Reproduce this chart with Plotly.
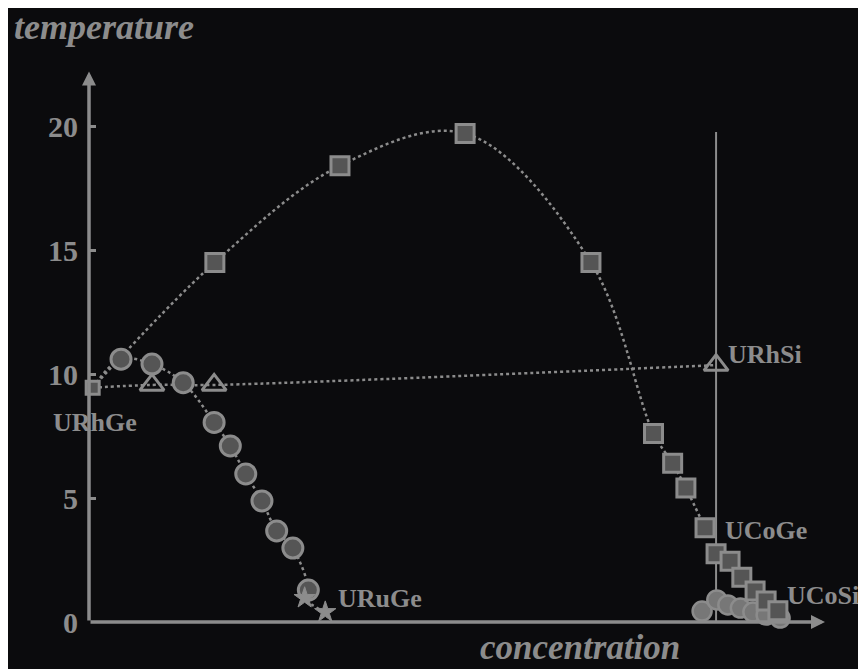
import plotly.graph_objects as go

# ---- data (concentration in arbitrary units 0..100, temperature in K) ----
dome_x = [0.5, 17.1, 34.1, 51.1, 68.2, 76.7, 79.3, 81.1, 83.7]
dome_y = [9.45, 14.5, 18.4, 19.7, 14.5, 7.6, 6.4, 5.4, 3.8]

cosi_sq_x = [83.7, 85.2, 87.1, 88.7, 90.5, 92.0, 93.6]
cosi_sq_y = [3.8, 2.75, 2.45, 1.8, 1.25, 0.85, 0.45]

ru_x = [0.5, 4.35, 8.56, 12.8, 17.0, 19.2, 21.3, 23.5, 25.5, 27.7, 29.8]
ru_y = [9.45, 10.6, 10.4, 9.65, 8.05, 7.1, 5.97, 4.88, 3.67, 2.98, 1.29]

star_x = [29.3, 32.1]
star_y = [0.97, 0.4]

tri_x = [0.5, 8.56, 17.0, 85.2]
tri_y = [9.45, 9.56, 9.56, 10.36]

cosi_c_x = [83.3, 85.3, 86.8, 88.5, 90.2, 92.0, 93.9]
cosi_c_y = [0.44, 0.89, 0.69, 0.56, 0.40, 0.28, 0.16]

vline_x = 85.2
vline_top = 19.76

y_ticks = [0, 5, 10, 15, 20]

labels = [
    ("URhGe", 0.8, 8.06, "center"),
    ("URhSi", 86.5, 10.8, "left"),
    ("UCoGe", 86.2, 3.67, "left"),
    ("UCoSi", 94.5, 1.05, "left"),
    ("URuGe", 33.5, 0.93, "left"),
]

GRAY = "#8c8c8c"
DARK = "#555555"
BG = "#0b0b0d"
SERIF = "Liberation Serif"

fig = go.Figure()

# vertical line
fig.add_trace(go.Scatter(x=[vline_x, vline_x], y=[0, vline_top], mode="lines",
                         line=dict(color=GRAY, width=2), hoverinfo="skip", showlegend=False))

# dotted lines
fig.add_trace(go.Scatter(x=tri_x, y=tri_y, mode="lines",
                         line=dict(color=GRAY, width=2.5, dash="dot", shape="spline"),
                         showlegend=False))
fig.add_trace(go.Scatter(x=dome_x, y=dome_y, mode="lines",
                         line=dict(color=GRAY, width=2.5, dash="dot", shape="spline", smoothing=1.0),
                         showlegend=False))
fig.add_trace(go.Scatter(x=ru_x + star_x, y=ru_y + star_y, mode="lines",
                         line=dict(color=GRAY, width=2.5, dash="dot", shape="spline"),
                         showlegend=False))

# UCoSi circles
fig.add_trace(go.Scatter(x=cosi_c_x, y=cosi_c_y, mode="markers", cliponaxis=False,
                         marker=dict(symbol="circle", size=19, color="#777777",
                                     line=dict(color=GRAY, width=2.5)), showlegend=False))
# squares
fig.add_trace(go.Scatter(x=dome_x[1:] + cosi_sq_x[1:], y=dome_y[1:] + cosi_sq_y[1:], mode="markers",
                         cliponaxis=False,
                         marker=dict(symbol="square", size=18, color=DARK,
                                     line=dict(color=GRAY, width=3)), showlegend=False))
# circles (Ru)
fig.add_trace(go.Scatter(x=ru_x[1:], y=ru_y[1:], mode="markers", cliponaxis=False,
                         marker=dict(symbol="circle", size=20, color=DARK,
                                     line=dict(color=GRAY, width=3)), showlegend=False))
# stars
fig.add_trace(go.Scatter(x=star_x, y=star_y, mode="markers", cliponaxis=False,
                         marker=dict(symbol="star", size=16, color=GRAY,
                                     line=dict(color=GRAY, width=1)), showlegend=False))
# triangles
fig.add_trace(go.Scatter(x=tri_x[1:], y=tri_y[1:], mode="markers", cliponaxis=False,
                         marker=dict(symbol="triangle-up-open", size=21, color=GRAY,
                                     line=dict(color=GRAY, width=3)), showlegend=False))
# URhGe start marker
fig.add_trace(go.Scatter(x=[dome_x[0]], y=[dome_y[0]], mode="markers", cliponaxis=False,
                         marker=dict(symbol="square", size=13, color=DARK,
                                     line=dict(color=GRAY, width=3)), showlegend=False))

annotations = []
for txt, x, y, anc in labels:
    annotations.append(dict(x=x, y=y, xref="x", yref="y", text=txt, showarrow=False,
                            xanchor=anc, yanchor="middle",
                            font=dict(family=SERIF, size=26, color=GRAY, weight="bold")))

# axis arrows
annotations.append(dict(x=0, y=22.2, ax=0, ay=0, xref="x", yref="y", axref="x", ayref="y",
                        text="", showarrow=True, arrowhead=2, arrowsize=0.8, arrowwidth=3.5,
                        arrowcolor=GRAY))
annotations.append(dict(x=100, y=0, ax=0, ay=0, xref="x", yref="y", axref="x", ayref="y",
                        text="", showarrow=True, arrowhead=2, arrowsize=0.8, arrowwidth=3.5,
                        arrowcolor=GRAY))

annotations.append(dict(x=-0.105, y=1.081, xref="paper", yref="paper", text="temperature",
                        showarrow=False, xanchor="left", yanchor="middle",
                        font=dict(family=SERIF, size=36, color=GRAY, style="italic", weight="bold")))
annotations.append(dict(x=0.667, y=-0.0855, xref="paper", yref="paper", text="concentration",
                        showarrow=False, xanchor="center", yanchor="bottom",
                        font=dict(family=SERIF, size=35, color=GRAY, style="italic", weight="bold")))

fig.update_layout(
    width=858, height=661,
    margin=dict(l=81, r=41, t=64, b=47),
    paper_bgcolor=BG, plot_bgcolor=BG,
    annotations=annotations,
    xaxis=dict(range=[0, 100], showgrid=False, zeroline=False, showticklabels=False,
               ticks="", showline=False, fixedrange=True),
    yaxis=dict(range=[0, 22.18], showgrid=False, zeroline=False, showline=False,
               tickvals=y_ticks, ticktext=[str(v) for v in y_ticks], ticks="inside",
               ticklen=7, tickwidth=3, tickcolor=GRAY, ticklabelstandoff=10,
               tickfont=dict(family=SERIF, size=30, color=GRAY, weight="bold")),
)

fig.write_html("out.html")
